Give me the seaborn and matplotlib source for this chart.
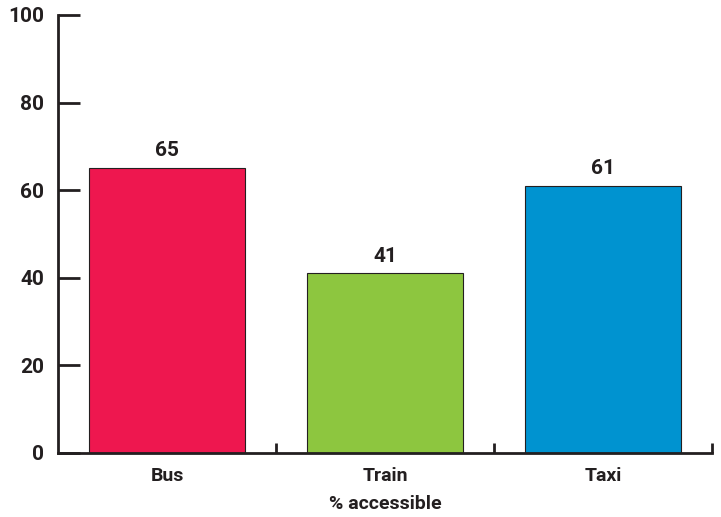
import matplotlib
matplotlib.use("Agg")
import matplotlib.pyplot as plt
import seaborn as sns
import pandas as pd

categories = ["Bus", "Train", "Taxi"]
values = [65, 41, 61]
colors = ["#EE174F", "#8DC63F", "#0093D0"]
y_ticks = [0, 20, 40, 60, 80, 100]
x_label = "% accessible"

sns.set_style("white")
plt.rcParams['font.family'] = ['Roboto', 'DejaVu Sans']
ink = "#231F20"

df = pd.DataFrame({"cat": categories, "val": values})
fig = plt.figure(figsize=(7.21, 5.17), dpi=100)
ax = fig.add_axes([58/721, 1-453/517, (712-58)/721, (453-15)/517])
sns.barplot(data=df, x="cat", y="val", hue="cat", palette=colors, legend=False,
            saturation=1, width=0.72, edgecolor=ink, linewidth=0.8, ax=ax)

for i, v in enumerate(values):
    ax.text(i, v + 1.8, str(v), ha="center", va="bottom", fontsize=15,
            fontweight="bold", color=ink)

ax.set_xlim(-0.5, 2.5)
ax.set_ylim(0, 100)
ax.set_yticks(y_ticks)
ax.set_yticklabels([str(t) for t in y_ticks], fontsize=15, fontweight="bold", color=ink)
ax.set_xticks([0, 1, 2])
ax.set_xticklabels(categories, fontsize=14, fontweight="bold", color=ink)
ax.tick_params(axis="x", bottom=False, length=0, pad=10)
ax.tick_params(axis="y", left=True, direction="in", length=16, width=2, color=ink, pad=10)
for b in [0.5, 1.5, 2.5]:
    ax.plot([b, b], [0, 2.3], color=ink, lw=2, clip_on=False, solid_capstyle="butt")
ax.set_xlabel(x_label, fontsize=14, fontweight="bold", color=ink, labelpad=7)
ax.set_ylabel("")
for s in ["top", "right"]:
    ax.spines[s].set_visible(False)
for s in ["left", "bottom"]:
    ax.spines[s].set_color(ink)
    ax.spines[s].set_linewidth(2)

fig.savefig("out.png", dpi=100)
